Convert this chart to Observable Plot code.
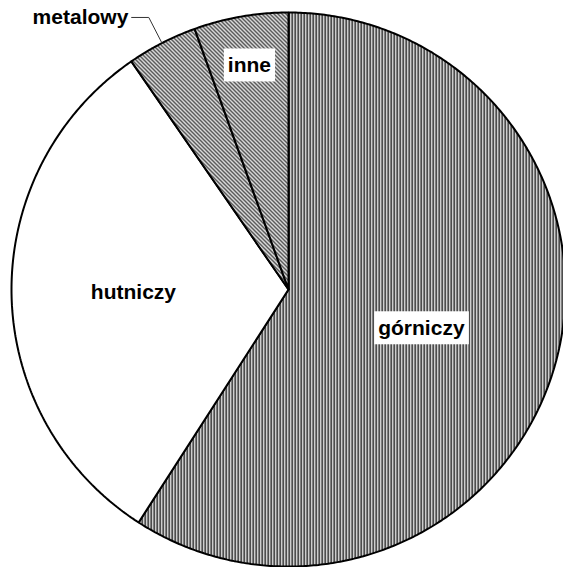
<!DOCTYPE html>
<html><head><meta charset="utf-8">
<script src="https://cdn.jsdelivr.net/npm/d3@7"></script>
<script src="https://cdn.jsdelivr.net/npm/@observablehq/plot@0.6"></script>
<style>body{margin:0;background:#fff}#chart svg{display:block}</style>
</head><body><div id="chart"></div>
<script>
// Data (percent shares, clockwise from 12 o'clock)
const categories = ["górniczy", "hutniczy", "metalowy", "inne"];
const values = [59.1, 31.3, 4.1, 5.5];
const patterns = ["vert", "none", "diagA", "diagB"];
const labelRadius = [0.5, 0.56, 1.104, 0.82];
const labelBoxed = [true, false, false, true];
const labelOutside = [false, false, true, false];

const total = d3.sum(values);
let acc = 0;
const slices = categories.map((c, i) => {
  const a0 = acc / total * 2 * Math.PI;
  acc += values[i];
  const a1 = acc / total * 2 * Math.PI;
  return {c, i, a0, a1, mid: (a0 + a1) / 2};
});

// polygon points of each slice (centre + arc)
const pts = [];
for (const s of slices) {
  pts.push({c: s.c, x: 0, y: 0});
  const n = Math.max(2, Math.ceil((s.a1 - s.a0) / (Math.PI / 360)));
  for (let k = 0; k <= n; k++) {
    const a = s.a0 + (s.a1 - s.a0) * k / n;
    pts.push({c: s.c, x: Math.sin(a), y: Math.cos(a)});
  }
  pts.push({c: s.c, x: 0, y: 0});
}
const fillFor = p => p === "none" ? "white" : `url(#${p})`;

const labels = slices.filter(s => !labelOutside[s.i]).map(s => ({
  c: s.c, x: labelRadius[s.i] * Math.sin(s.mid), y: labelRadius[s.i] * Math.cos(s.mid), boxed: labelBoxed[s.i]
}));
const outside = slices.filter(s => labelOutside[s.i]);
const leaders = [];
const outLabels = [];
for (const s of outside) {
  const ex = Math.sin(s.mid), ey = Math.cos(s.mid);
  const r = labelRadius[s.i];
  const bx = r * Math.sin(s.mid), by = r * Math.cos(s.mid);
  const tx = bx - 0.062;
  leaders.push({c: s.c, x: ex, y: ey}, {c: s.c, x: bx, y: by}, {c: s.c, x: tx, y: by});
  outLabels.push({c: s.c, x: tx - 0.012, y: by});
}

const R = 277, cx = 288, cy = 289, W = 563, H = 567;
const marks = slices.map(s => Plot.line(pts.filter(p => p.c === s.c), {
  x: "x", y: "y", fill: fillFor(patterns[s.i]), stroke: "black", strokeWidth: 2, strokeLinejoin: "miter"
}));
marks.push(Plot.line(leaders, {x: "x", y: "y", z: "c", stroke: "#333", strokeWidth: 1}));
marks.push(Plot.text(labels, {x: "x", y: "y", text: "c", fontSize: 21, fontWeight: "bold", fill: "black", className: "lbl"}));
marks.push(Plot.text(outLabels, {x: "x", y: "y", text: "c", fontSize: 21, fontWeight: "bold", fill: "black", textAnchor: "end"}));

const svg = Plot.plot({
  width: W, height: H,
  marginLeft: cx - R, marginRight: 0, marginTop: cy - R, marginBottom: H - (cy + R),
  x: {domain: [-1, (W - cx) / R], axis: null},
  y: {domain: [-1, 1], axis: null},
  style: {fontFamily: "'Liberation Sans', Arial, sans-serif", background: "white", overflow: "hidden"},
  marks
});
document.getElementById("chart").appendChild(svg);

// hatch patterns
const defs = d3.select(svg).insert("defs", ":first-child");
const pv = defs.append("pattern").attr("id", "vert").attr("patternUnits", "userSpaceOnUse")
  .attr("width", 3).attr("height", 3);
pv.append("rect").attr("width", 3).attr("height", 3).attr("fill", "white");
pv.append("rect").attr("width", 1).attr("height", 3).attr("fill", "black");
pv.append("rect").attr("x", 1).attr("width", 1).attr("height", 3).attr("fill", "#9a9a9a");
for (const [id, sw] of [["diagA", 1.2], ["diagB", 1.2]]) {
  const p = defs.append("pattern").attr("id", id).attr("patternUnits", "userSpaceOnUse")
    .attr("width", 4).attr("height", 4);
  p.append("rect").attr("width", 4).attr("height", 4).attr("fill", "white");
  p.append("path").attr("d", "M-1,-1L5,5M-1,3L1,5M3,-1L5,1")
    .attr("stroke", "black").attr("stroke-width", sw).attr("fill", "none");
}

// white boxes behind boxed labels
d3.select(svg).selectAll("g.lbl text").each(function(d, k) {
  if (!labels[k].boxed) return;
  const b = this.getBBox();
  const t = this.getAttribute("transform");
  d3.select(this.parentNode).insert("rect", () => this)
    .attr("transform", t)
    .attr("x", b.x - 4).attr("y", b.y - 5).attr("width", b.width + 8).attr("height", b.height + 10)
    .attr("fill", "white");
});
</script></body></html>
